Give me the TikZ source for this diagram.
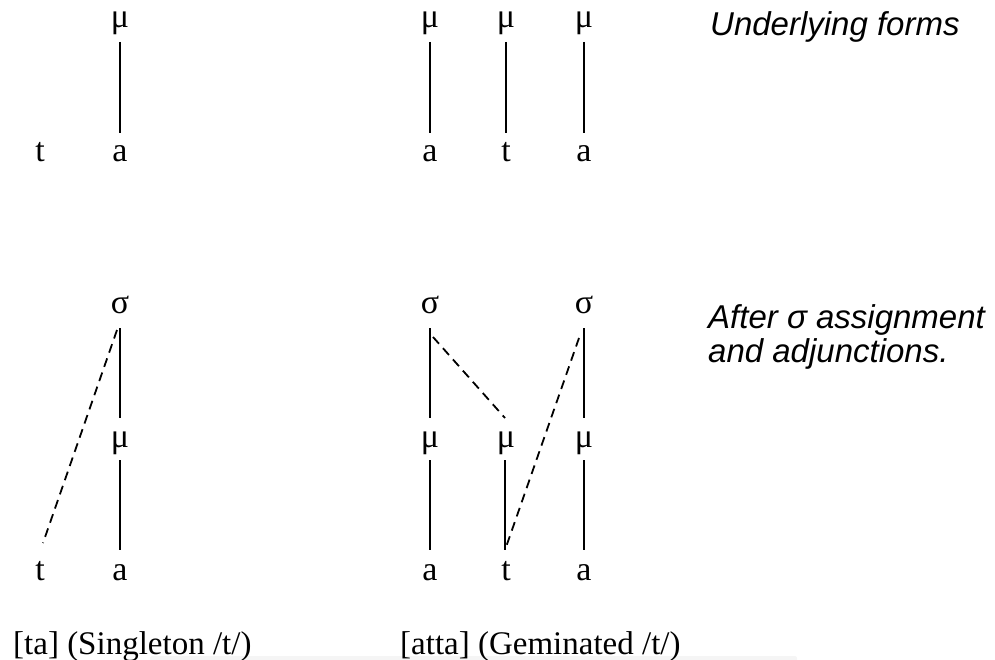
\documentclass[tikz,border=0pt]{standalone}
\usepackage{fontspec}
\setmainfont{Liberation Serif}
\newfontfamily\labelfont{Liberation Sans}
\begin{document}
\begin{tikzpicture}[x=1pt,y=-1pt,
  seg/.style={font=\fontsize{34}{40}\selectfont, inner sep=0pt, anchor=base},
  assoc/.style={line width=1.8pt},
  adjoin/.style={line width=1.8pt, dash pattern=on 9pt off 6pt},
  caption/.style={font=\fontsize{33}{38}\selectfont, inner sep=0pt, anchor=base west},
  stage/.style={font=\labelfont\itshape\fontsize{33}{34}\selectfont, inner sep=0pt, anchor=base west, align=left}]
\useasboundingbox (0,0) rectangle (995,660);
\fill[black!4, rounded corners=2pt] (150,656) rectangle (797,662);
% ---- Underlying forms ----
\node[seg] (u1mu) at (120,28) {μ};
\node[seg] (u1t) at (40,162) {t};
\node[seg] (u1a) at (120,162) {a};
\draw[assoc] ([yshift=-14pt]u1mu.base) -- ([yshift=29pt]u1a.base);
\node[seg] (u2mua) at (430,28) {μ};
\node[seg] (u2mut) at (506,28) {μ};
\node[seg] (u2mub) at (584,28) {μ};
\node[seg] (u2a) at (430,162) {a};
\node[seg] (u2t) at (506,162) {t};
\node[seg] (u2b) at (584,162) {a};
\draw[assoc] ([yshift=-14pt]u2mua.base) -- ([yshift=29pt]u2a.base);
\draw[assoc] ([yshift=-14pt]u2mut.base) -- ([yshift=29pt]u2t.base);
\draw[assoc] ([yshift=-14pt]u2mub.base) -- ([yshift=29pt]u2b.base);
% ---- After syllabification ----
\node[seg] (s1sig) at (120,313) {σ};
\node[seg] (s1mu) at (120,447) {μ};
\node[seg] (s1t) at (40,580) {t};
\node[seg] (s1a) at (120,580) {a};
\draw[assoc] ([yshift=-15pt]s1sig.base) -- ([yshift=29pt]s1mu.base);
\draw[assoc] ([yshift=-13pt]s1mu.base) -- ([yshift=30pt]s1a.base);
\draw[adjoin] ([shift={(-3pt,-17pt)}]s1sig.base) -- ([shift={(3pt,37pt)}]s1t.base);
\node[seg] (s2siga) at (430,313) {σ};
\node[seg] (s2sigb) at (584,313) {σ};
\node[seg] (s2mua) at (430,447) {μ};
\node[seg] (s2mut) at (506,447) {μ};
\node[seg] (s2mub) at (584,447) {μ};
\node[seg] (s2a) at (430,580) {a};
\node[seg] (s2t) at (506,580) {t};
\node[seg] (s2b) at (584,580) {a};
\draw[assoc] ([yshift=-15pt]s2siga.base) -- ([yshift=29pt]s2mua.base);
\draw[assoc] ([yshift=-15pt]s2sigb.base) -- ([yshift=29pt]s2mub.base);
\draw[assoc] ([yshift=-13pt]s2mua.base) -- ([yshift=30pt]s2a.base);
\draw[assoc] ([shift={(-1pt,-13pt)}]s2mut.base) -- ([shift={(-1pt,30pt)}]s2t.base);
\draw[assoc] ([yshift=-13pt]s2mub.base) -- ([yshift=30pt]s2b.base);
\draw[adjoin] ([shift={(3pt,-24pt)}]s2siga.base) -- ([shift={(-1pt,29pt)}]s2mut.base);
\draw[adjoin] ([shift={(-5pt,-25pt)}]s2sigb.base) -- ([shift={(-1pt,30pt)}]s2t.base);
% ---- labels ----
\node[stage] (lab1) at (710,36) {Underlying forms};
\node[stage] (lab2) at (708,362) {After σ assignment\\and adjunctions.};
\node[caption] (cap1) at (13,654) {[ta] (Singleton /t/)};
\node[caption] (cap2) at (400,654) {[atta] (Geminated /t/)};
\end{tikzpicture}
\end{document}
